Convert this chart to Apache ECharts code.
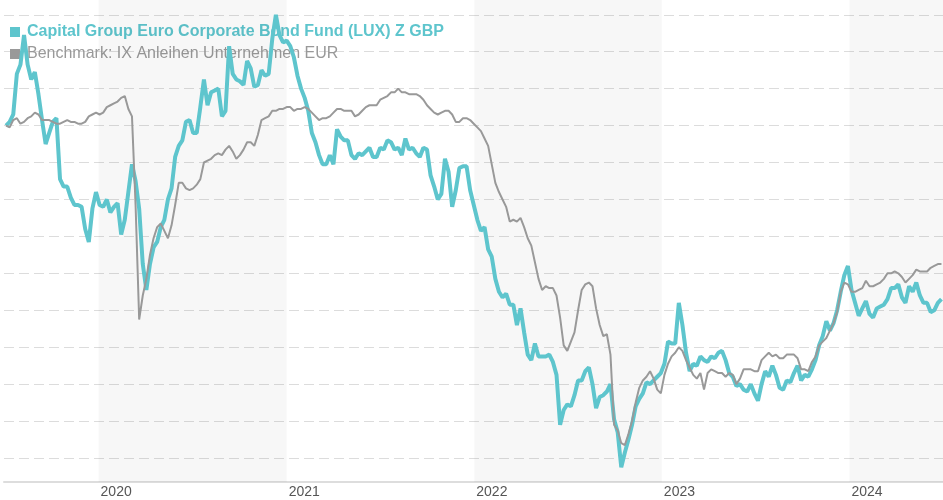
<!DOCTYPE html>
<html>
<head>
<meta charset="utf-8">
<title>Capital Group Euro Corporate Bond Fund (LUX) Z GBP</title>
<script src="https://cdn.jsdelivr.net/npm/echarts@6/dist/echarts.min.js"></script>
<style>
  html, body { margin: 0; padding: 0; background: #fff; }
  #chart { width: 943px; height: 500px; }
</style>
</head>
<body>
<div id="chart"></div>
<script>
// weekly observations, first one on 2019-07-05
var startDate = [2019, 6, 5];
var stepDays = 7;

var fundName = 'Capital Group Euro Corporate Bond Fund (LUX) Z GBP';
var benchName = 'Benchmark: IX Anleihen Unternehmen EUR';

// performance in %
var fundValues = [
  0.0, 0.2, 0.6, 2.8, 3.3, 4.9, 3.3, 2.5, 2.9, 1.7,
  0.3, -1.0, -0.4, 0.2, 0.4, -2.9, -3.3, -3.3, -3.9, -4.3,
  -4.3, -4.4, -5.6, -6.3, -4.5, -3.6, -4.3, -4.4, -4.0, -4.7,
  -4.4, -4.2, -5.9, -5.1, -3.6, -2.1, -3.0, -4.5, -7.5, -8.9,
  -7.5, -6.6, -6.3, -5.5, -5.1, -4.0, -3.4, -1.7, -1.1, -0.8,
  0.2, 0.3, -0.4, -0.4, 1.0, 2.5, 1.1, 1.8, 1.9, 2.0,
  0.5, 0.8, 4.3, 2.8, 2.5, 2.4, 2.2, 3.5, 3.1, 2.1,
  2.2, 3.0, 2.7, 2.8, 4.7, 6.0, 4.9, 4.5, 4.6, 4.3,
  3.7, 2.7, 2.0, 1.5, 0.8, -0.4, -0.9, -1.6, -2.1, -2.1,
  -1.6, -2.1, -0.2, -0.6, -0.8, -0.8, -1.6, -1.8, -1.5, -1.6,
  -1.4, -1.2, -1.7, -1.7, -1.2, -1.3, -0.8, -0.9, -1.3, -1.2,
  -1.6, -0.7, -1.3, -1.2, -1.5, -1.7, -1.2, -1.3, -2.7, -3.3,
  -4.0, -3.7, -1.8, -2.5, -4.4, -3.5, -2.3, -2.2, -2.2, -3.5,
  -4.3, -5.1, -5.7, -5.5, -6.7, -7.1, -8.3, -9.0, -9.3, -9.1,
  -9.7, -9.7, -10.8, -9.9, -11.2, -12.4, -12.7, -11.8, -12.5, -12.5,
  -12.5, -12.4, -12.8, -13.5, -16.2, -15.4, -15.1, -15.2, -14.6, -13.8,
  -13.8, -13.3, -13.1, -14.0, -15.3, -14.7, -14.6, -14.4, -14.0, -15.9,
  -16.6, -18.5, -17.7, -17.0, -16.2, -15.2, -14.8, -14.5, -13.9, -14.0,
  -13.8, -13.6, -13.4, -12.9, -11.7, -11.8, -11.8, -9.6, -10.8, -12.3,
  -13.3, -12.9, -13.0, -12.5, -12.7, -12.8, -12.5, -12.6, -12.3, -12.2,
  -12.7, -13.4, -13.6, -14.1, -14.0, -14.3, -14.4, -14.0, -14.5, -14.9,
  -14.0, -13.3, -13.6, -13.0, -13.5, -14.2, -14.3, -13.8, -13.9, -13.4,
  -13.0, -13.8, -13.5, -13.6, -13.2, -12.7, -11.9, -11.4, -10.6, -11.1,
  -10.7, -10.0, -9.0, -8.1, -7.6, -8.9, -9.6, -10.3, -9.9, -9.5,
  -10.2, -10.4, -9.9, -9.8, -9.7, -9.4, -8.8, -8.8, -8.6, -9.3,
  -9.6, -8.7, -9.0, -8.5, -9.2, -9.6, -9.6, -10.1, -10.0, -9.6,
  -9.4
];

var benchValues = [
  0.0, -0.1, 0.3, 0.4, 0.1, 0.2, 0.4, 0.5, 0.7, 0.6,
  0.3, 0.3, 0.3, 0.2, 0.1, 0.1, 0.2, 0.3, 0.2, 0.2,
  0.1, 0.1, 0.2, 0.5, 0.6, 0.7, 0.6, 0.7, 1.0, 1.1,
  1.2, 1.3, 1.5, 1.6, 0.9, 0.5, -4.3, -10.5, -9.2, -8.3,
  -7.0, -6.1, -5.5, -5.3, -5.7, -6.1, -5.4, -4.3, -3.1, -3.1,
  -3.4, -3.5, -3.4, -3.2, -2.9, -2.0, -1.9, -1.8, -1.6, -1.5,
  -1.6, -1.3, -1.1, -1.4, -1.8, -1.6, -1.3, -0.9, -0.9, -1.1,
  -0.5, 0.3, 0.4, 0.5, 0.8, 0.8, 0.9, 0.9, 1.0, 1.0,
  0.8, 0.9, 0.9, 1.0, 0.9, 0.7, 0.5, 0.3, 0.4, 0.4,
  0.5, 0.7, 0.9, 0.9, 0.8, 0.8, 0.8, 0.5, 0.6, 0.8,
  1.0, 1.1, 1.1, 1.1, 1.4, 1.5, 1.6, 1.8, 1.8, 2.0,
  1.8, 1.8, 1.7, 1.7, 1.7, 1.6, 1.4, 1.1, 0.9, 0.7,
  0.6, 0.7, 0.8, 0.8, 0.6, 0.2, 0.2, 0.4, 0.4, 0.3,
  0.1, -0.1, -0.3, -0.7, -1.1, -2.1, -3.1, -3.6, -4.0, -4.4,
  -5.2, -5.1, -5.2, -5.0, -5.5, -6.1, -6.5, -7.4, -8.3, -8.9,
  -8.7, -8.8, -8.8, -9.2, -10.4, -11.9, -12.2, -11.7, -11.2, -10.0,
  -8.9, -8.6, -8.5, -8.7, -9.9, -10.8, -11.4, -11.3, -12.4, -16.2,
  -16.5, -17.2, -17.3, -16.7, -16.0, -15.0, -14.2, -13.8, -13.6, -13.3,
  -13.7, -14.3, -14.5, -13.5, -12.9, -12.5, -12.3, -12.0, -12.2, -12.7,
  -13.1, -13.5, -13.7, -13.4, -14.3, -13.4, -13.2, -13.3, -13.4, -13.4,
  -13.6, -13.4, -13.5, -14.0, -13.7, -13.2, -13.2, -13.2, -13.3, -13.3,
  -12.7, -12.5, -12.3, -12.5, -12.4, -12.6, -12.6, -12.4, -12.4, -12.4,
  -12.6, -13.2, -13.2, -13.3, -12.8, -12.5, -11.9, -11.7, -11.5, -11.1,
  -10.7, -10.1, -9.0, -8.5, -8.6, -9.0, -9.0, -8.9, -8.8, -8.4,
  -8.7, -8.7, -8.6, -8.5, -8.3, -8.0, -8.0, -7.9, -8.0, -8.2,
  -8.5, -8.3, -8.1, -7.8, -7.9, -7.9, -7.9, -7.7, -7.6, -7.5,
  -7.5
];

var labelYears = [2020, 2021, 2022, 2023, 2024];
var shadedYears = [2020, 2022, 2024];

var fundColor = '#5ec5cd';
var benchColor = '#999999';

var xMin = new Date(2019, 6, 1).getTime();
var xMax = new Date(2024, 6, 1).getTime();

function dateAt(i) {
  return new Date(startDate[0], startDate[1], startDate[2] + i * stepDays).getTime();
}

var fundData = fundValues.map(function (v, i) { return [dateAt(i), v]; });
var benchData = benchValues.map(function (v, i) { return [dateAt(i), v]; });

var yearTicks = labelYears.map(function (y) { return new Date(y, 0, 1).getTime(); });

var bands = shadedYears.map(function (y) {
  return [
    { xAxis: new Date(y, 0, 1).getTime() },
    { xAxis: Math.min(new Date(y + 1, 0, 1).getTime(), xMax) }
  ];
});

var chart = echarts.init(document.getElementById('chart'));

chart.setOption({
  animation: false,
  textStyle: { fontFamily: 'Arial, "Liberation Sans", sans-serif' },
  grid: { left: 4, right: 0, top: 0, bottom: 18 },
  legend: {
    orient: 'vertical',
    left: 10,
    top: 23,
    padding: 0,
    itemGap: 4,
    itemWidth: 10,
    itemHeight: 10,
    icon: 'rect',
    z: 0,
    selectedMode: false,
    textStyle: { fontSize: 16, lineHeight: 18, padding: [0, 0, 0, 2] },
    data: [
      { name: fundName, textStyle: { color: fundColor, fontWeight: 'bold' } },
      { name: benchName, textStyle: { color: benchColor } }
    ]
  },
  // x values are timestamps, labelled on the first day of each year
  xAxis: {
    type: 'value',
    min: xMin,
    max: xMax,
    axisLine: { onZero: false, lineStyle: { color: '#dddddd', width: 2 } },
    axisTick: { show: false },
    splitLine: { show: false },
    axisLabel: {
      customValues: yearTicks,
      formatter: function (v) { return String(new Date(v).getFullYear()); },
      align: 'left',
      margin: 3,
      padding: [0, 0, 0, 2],
      color: '#555555',
      fontSize: 14
    }
  },
  yAxis: {
    type: 'value',
    min: -19.3,
    max: 6.8,
    splitNumber: 13,
    axisLabel: { show: false },
    axisLine: { show: false },
    axisTick: { show: false },
    splitLine: {
      show: true,
      showMinLine: false,
      showMaxLine: false,
      lineStyle: { color: '#dcdcdc', type: [10, 5], width: 1 }
    }
  },
  series: [
    {
      name: fundName,
      type: 'line',
      data: fundData,
      showSymbol: false,
      symbol: 'none',
      color: fundColor,
      lineStyle: { color: fundColor, width: 4 },
      markArea: {
        silent: true,
        itemStyle: { color: 'rgba(0,0,0,0.03)' },
        data: bands
      }
    },
    {
      name: benchName,
      type: 'line',
      data: benchData,
      showSymbol: false,
      symbol: 'none',
      color: benchColor,
      lineStyle: { color: benchColor, width: 2 }
    }
  ]
});
</script>
</body>
</html>
